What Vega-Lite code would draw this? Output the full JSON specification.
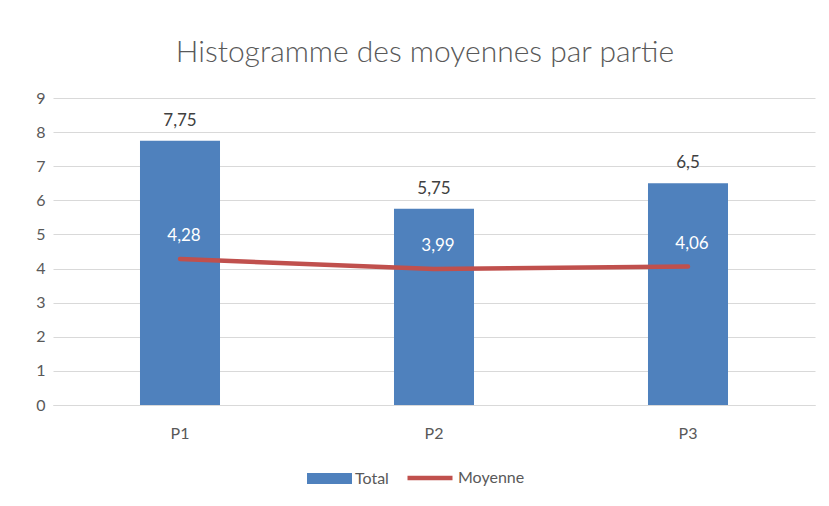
{
  "$schema": "https://vega.github.io/schema/vega-lite/v6.json",
  "width": 762,
  "height": 307,
  "autosize": {"type": "none"},
  "padding": {"left": 53, "top": 98, "right": 14, "bottom": 101},
  "config": {
    "locale": {"number": {"decimal": ",", "thousands": " ", "grouping": [3], "currency": ["", " €"]}},
    "font": "Lato",
    "view": {"stroke": null},
    "axisY": {"title": null, "values": [0,1,2,3,4,5,6,7,8,9], "labelOverlap": false, "domain": false, "ticks": false, "gridColor": "#D9D9D9", "gridWidth": 1, "labelFontSize": 16, "labelColor": "#595959", "labelPadding": 8},
    "legend": {"labelFontSize": 16, "labelColor": "#595959", "labelFont": "Lato", "padding": 0, "labelOffset": 3}
  },
  "title": {"text": "Histogramme des moyennes par partie", "fontSize": 30, "fontWeight": 300, "color": "#595959", "font": "Lato", "offset": 22, "dx": -9},
  "data": {"values": [
    {"partie": "P1", "total": 7.75, "moyenne": 4.28},
    {"partie": "P2", "total": 5.75, "moyenne": 3.99},
    {"partie": "P3", "total": 6.5, "moyenne": 4.06}
  ]},
  "encoding": {
    "x": {"field": "partie", "type": "nominal", "sort": null,
      "scale": {"paddingInner": 0.685, "paddingOuter": 0.3425},
      "axis": {"title": null, "labelAngle": 0, "ticks": false, "domainColor": "#D9D9D9", "domainWidth": 1, "labelFontSize": 16, "labelColor": "#595959", "labelPadding": 20, "grid": false}}
  },
  "layer": [
    {
      "mark": {"type": "bar"},
      "encoding": {
        "y": {"field": "total", "type": "quantitative", "scale": {"domain": [0, 9], "nice": false},
          "axis": {"values": [0,1,2,3,4,5,6,7,8,9]}},
        "fill": {"datum": "Total", "type": "nominal", "scale": {"range": ["#4F81BD"]},
          "legend": {"orient": "none", "legendX": 254, "legendY": 358, "title": null, "symbolType": "M-1,-0.24H1V0.24H-1Z", "symbolSize": 2025, "symbolStrokeWidth": 0}}
      }
    },
    {
      "mark": {"type": "text", "baseline": "bottom", "dy": -11, "fontSize": 17, "color": "#404040"},
      "encoding": {
        "y": {"field": "total", "type": "quantitative", "axis": {"values": [0,1,2,3,4,5,6,7,8,9]}},
        "text": {"field": "total", "type": "quantitative", "format": "~g"}
      }
    },
    {
      "mark": {"type": "line", "strokeWidth": 4.5, "strokeCap": "round"},
      "encoding": {
        "y": {"field": "moyenne", "type": "quantitative", "axis": {"values": [0,1,2,3,4,5,6,7,8,9]}},
        "stroke": {"datum": "Moyenne", "type": "nominal", "scale": {"range": ["#C0504D"]},
          "legend": {"orient": "none", "legendX": 352, "legendY": 355, "title": null, "symbolType": "stroke", "symbolSize": 2025, "symbolStrokeWidth": 4.5}}
      }
    },
    {
      "mark": {"type": "text", "dy": -23, "dx": 4, "fontSize": 17, "color": "white"},
      "encoding": {
        "y": {"field": "moyenne", "type": "quantitative", "axis": {"values": [0,1,2,3,4,5,6,7,8,9]}},
        "text": {"field": "moyenne", "type": "quantitative", "format": "~g"}
      }
    }
  ]
}
